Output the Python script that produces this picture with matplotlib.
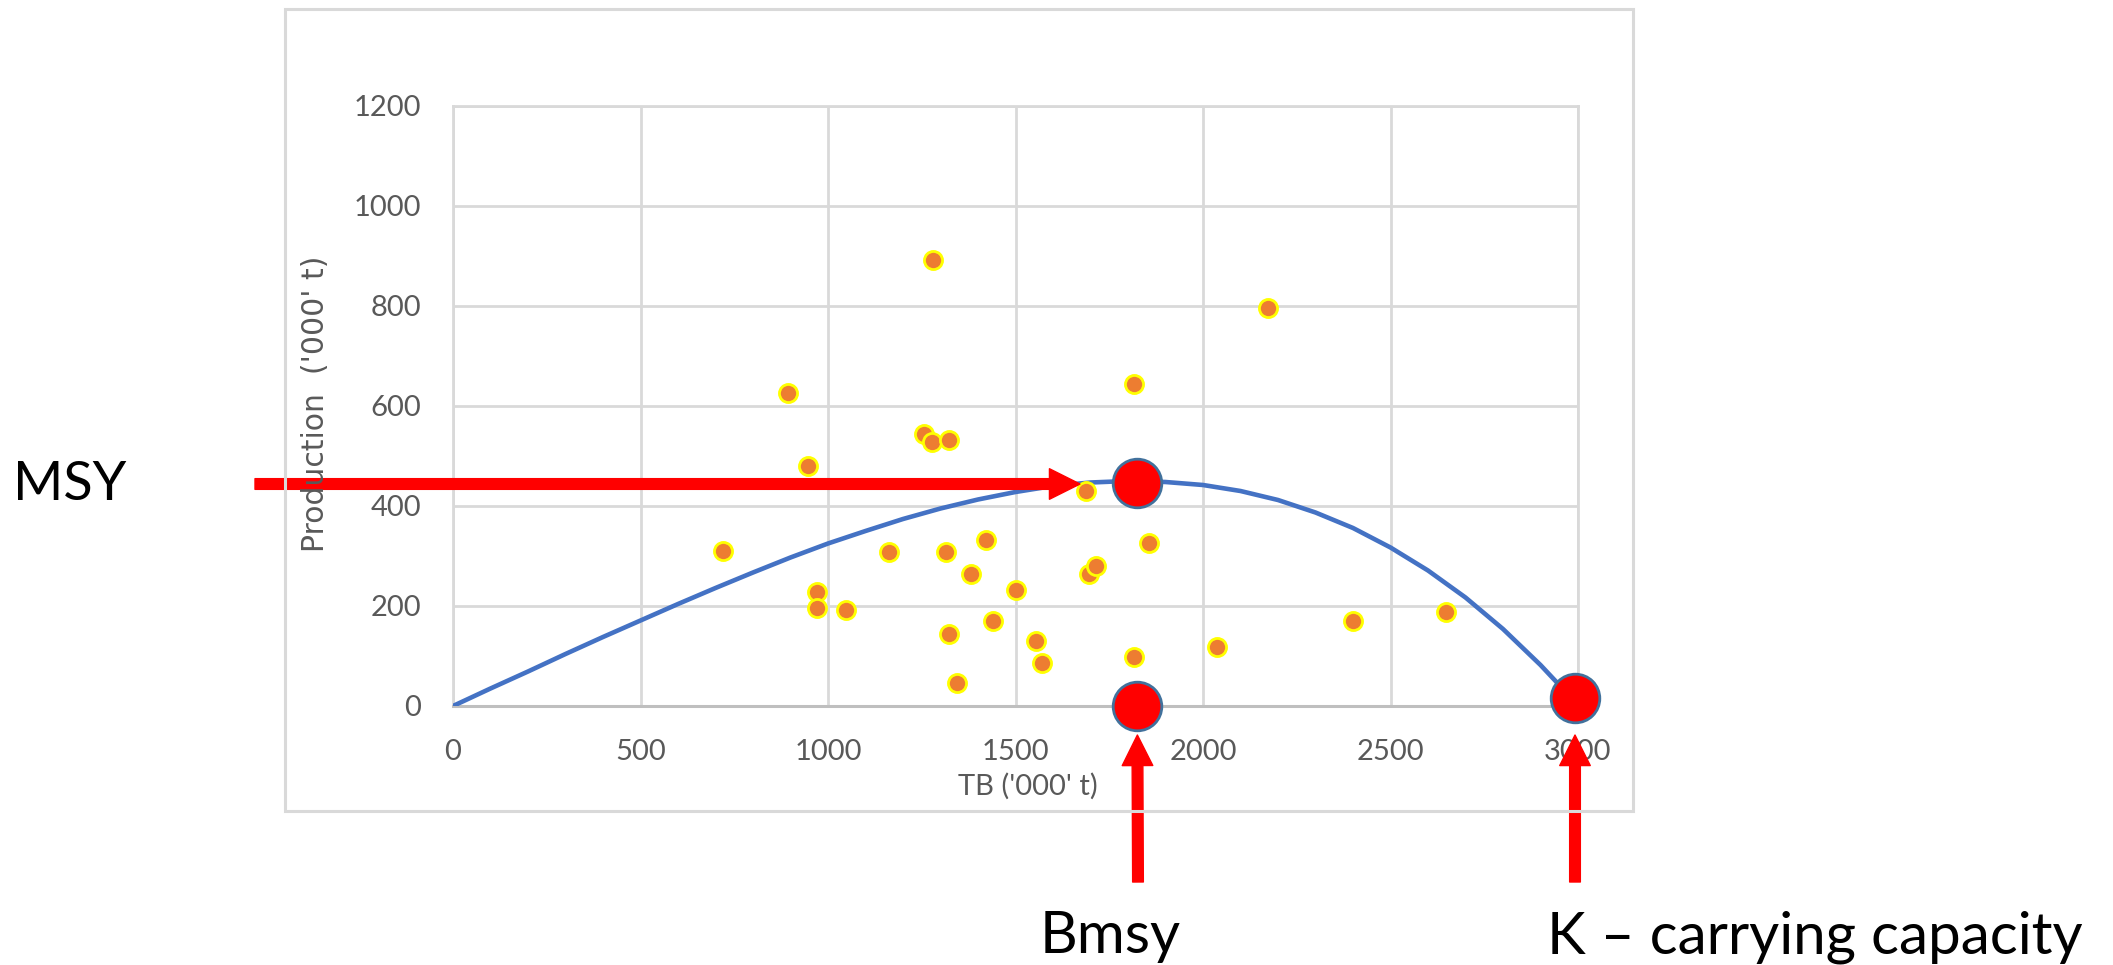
import matplotlib
matplotlib.use("Agg")
import matplotlib.pyplot as plt
from matplotlib.patches import Rectangle

# Total biomass vs production ('000 t), yearly observations
tb = [720, 893, 947, 971, 971, 1048, 1163, 1256, 1277, 1279, 1323, 1315, 1323, 1344, 1381,
      1421, 1440, 1501, 1555, 1571, 1688, 1696, 1715, 1815, 1815, 1857, 2038, 2173, 2400, 2648]
prod = [310, 626, 480, 228, 196, 192, 308, 544, 528, 892, 532, 308, 144, 46, 264,
        332, 170, 232, 130, 86, 430, 264, 280, 645, 98, 326, 118, 796, 170, 189]

# fitted surplus production curve
curve_tb = [0, 100, 200, 300, 400, 500, 600, 700, 800, 900, 1000, 1100, 1200, 1300, 1400, 1500,
            1600, 1700, 1800, 1900, 2000, 2100, 2200, 2300, 2400, 2500, 2600, 2700, 2800, 2900,
            2950, 3000]
curve_prod = [0, 35, 69, 104, 138, 171, 204, 236, 267, 297, 325, 350, 374, 395, 413, 428,
              440, 447, 450, 448, 442, 430, 412, 387, 356, 317, 271, 217, 154, 82,
              42, 0]

# reference points
bmsy = 1825
msy = 447
k_cap = 2992
k_prod = 16

xticks = [0, 500, 1000, 1500, 2000, 2500, 3000]
yticks = [0, 200, 400, 600, 800, 1000, 1200]

W, H = 2113, 965
fig = plt.figure(figsize=(W / 100, H / 100), dpi=100)
fig.patch.set_facecolor("white")

# chart frame
fig.add_artist(Rectangle((285 / W, (H - 811) / H), (1633 - 285) / W, (811 - 9) / H,
                         transform=fig.transFigure, fill=False, edgecolor="#d9d9d9", linewidth=2.2))

ax = fig.add_axes([453 / W, (H - 706) / H, 1125 / W, 600 / H])
ax.set_xlim(0, 3000)
ax.set_ylim(0, 1200)
ax.set_xticks(xticks)
ax.set_yticks(yticks)
ax.grid(True, color="#d9d9d9", linewidth=2)
ax.set_axisbelow(True)
for side in ["top", "right", "left"]:
    ax.spines[side].set_color("#d9d9d9")
    ax.spines[side].set_linewidth(2)
ax.spines["bottom"].set_color("#bfbfbf")
ax.spines["bottom"].set_linewidth(2.2)
ax.tick_params(length=0, labelsize=21, labelcolor="#595959")
ax.tick_params(axis="x", pad=24)
ax.tick_params(axis="y", pad=23)
for lab in ax.get_xticklabels() + ax.get_yticklabels():
    lab.set_family("Lato")

ax.plot(curve_tb, curve_prod, color="#4472c4", linewidth=3.3, zorder=3,
        solid_joinstyle="round")
ax.scatter(tb, prod, s=170, color="#ed7d31", edgecolors="#ffff00", linewidths=2, zorder=4)

big = dict(marker="o", markersize=35, markerfacecolor="#ff0000", markeredgecolor="#41719c",
           markeredgewidth=2, linestyle="none", zorder=6, clip_on=False)
ax.plot([bmsy], [msy], **big)
ax.plot([bmsy], [0], **big)
ax.plot([k_cap], [k_prod], **big)

fig.text(315 / W, (H - 404) / H, "Production  ('000' t)", rotation=90, ha="center", va="center",
         fontsize=21.5, color="#595959", family="DejaVu Sans")
fig.text(1028 / W, (H - 786) / H, "TB ('000' t)", ha="center", va="center",
         fontsize=21, color="#595959", family="Lato")

# arrows pointing at the reference points
style = "simple,head_length=22,head_width=22,tail_width=7.7"
arrow = dict(arrowstyle=style, color="#ff0000", shrinkA=0, shrinkB=0, mutation_scale=1)
ax.annotate("", xy=(1672, msy - 3), xycoords="data", xytext=(255, H - 484), textcoords="figure pixels",
            arrowprops=arrow, annotation_clip=False, zorder=7)
ax.annotate("", xy=(bmsy, -58), xycoords="data", xytext=(1138, H - 882), textcoords="figure pixels",
            arrowprops=arrow, annotation_clip=False, zorder=7)
ax.annotate("", xy=(k_cap, -58), xycoords="data", xytext=(1575, H - 882), textcoords="figure pixels",
            arrowprops=arrow, annotation_clip=False, zorder=7)

fig.text(13 / W, (H - 484) / H, "MSY", ha="left", va="center",
         fontsize=39, color="black", family="Lato")
fig.text(1040 / W, (H - 953) / H, "Bmsy", ha="left", va="baseline",
         fontsize=42, color="black", family="Lato")
fig.text(1547 / W, (H - 953) / H, "K \u2013 carrying capacity", ha="left", va="baseline",
         fontsize=42, color="black", family="Lato")

fig.savefig("out.png", dpi=100)
